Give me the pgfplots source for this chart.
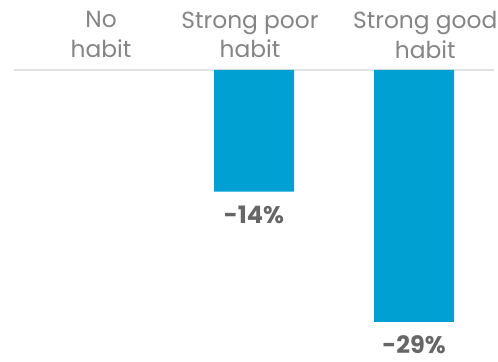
\documentclass[border=0pt]{standalone}
\usepackage{pgfplots}
\pgfplotsset{compat=1.18}
\usepackage{fontspec}
\setmainfont{Poppins}
\definecolor{barblue}{HTML}{00A0D2}
\definecolor{labgray}{HTML}{858585}
\definecolor{valgray}{HTML}{666666}
\definecolor{linegray}{HTML}{E2E2E2}
\begin{document}
\begin{tikzpicture}
\begin{axis}[
  scale only axis, width=373.5pt, height=270.75pt,
  xmin=-0.5875, xmax=2.525, ymin=-33.5, ymax=8.05,
  axis lines=none, clip=false,
  ybar, bar width=60pt,
  nodes near coords={\pgfmathprintnumber[assume math mode=true]{\pgfplotspointmeta}\%},
  nodes near coords style={font=\bfseries\fontsize{18}{21}\selectfont, text=valgray, yshift=-7pt},
]
\draw[linegray, line width=1.5pt] (axis cs:-0.5,0) -- (axis cs:2.5,0);
\addplot[fill=barblue, draw=none] coordinates {(1,-14) (2,-29)};
\node[anchor=north, inner sep=0pt, align=center, text=labgray, font=\fontsize{17.5}{22}\selectfont] at (axis cs:0.044,6.75) {No\\habit};
\node[anchor=north, inner sep=0pt, align=center, text=labgray, font=\fontsize{17.5}{22}\selectfont] at (axis cs:0.975,6.75) {Strong poor\\habit};
\node[anchor=north, inner sep=0pt, align=center, text=labgray, font=\fontsize{17.5}{22}\selectfont] at (axis cs:2.07,6.75) {Strong good\\habit};
\end{axis}
\pgfresetboundingbox
\path (current axis.south west) rectangle (current axis.north east);
\end{tikzpicture}
\end{document}
